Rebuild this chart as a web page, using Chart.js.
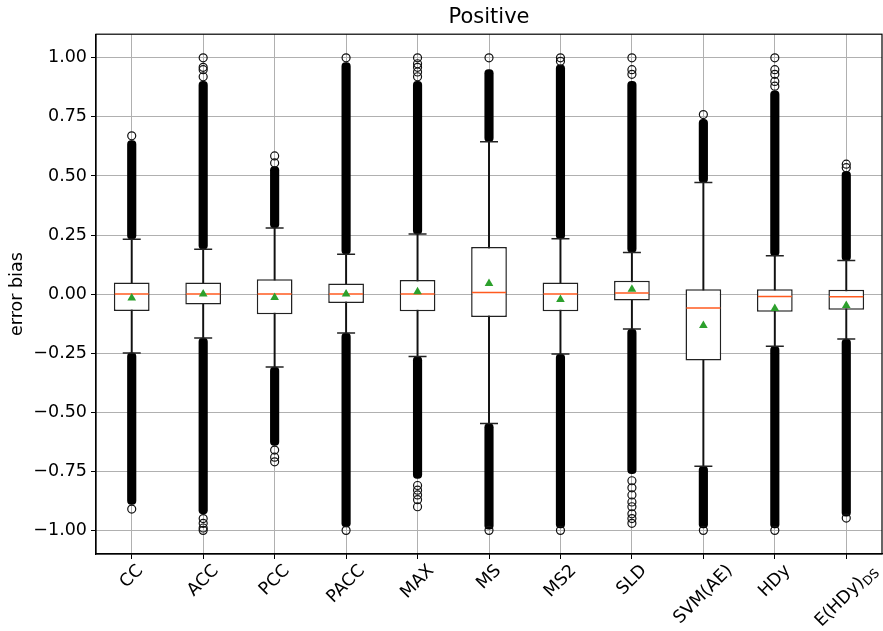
<!DOCTYPE html>
<html lang="en">
<head>
<meta charset="UTF-8" />
<title>Positive - error bias</title>
<script src="https://cdn.jsdelivr.net/npm/chart.js"></script>
<style>
  body { margin: 0; background: #fff; }
</style>
</head>
<body>
<canvas id="myChart" width="883" height="631"></canvas>
<script>
// categories + box stats
const methods = ['CC', 'ACC', 'PCC', 'PACC', 'MAX', 'MS', 'MS2', 'SLD', 'SVM(AE)', 'HDy', 'E(HDy)DS'];
const labelMain = ['CC', 'ACC', 'PCC', 'PACC', 'MAX', 'MS', 'MS2', 'SLD', 'SVM(AE)', 'HDy', 'E(HDy)'];
const labelSub = ['', '', '', '', '', '', '', '', '', '', 'DS'];

const q1 = [-0.071, -0.044, -0.085, -0.038, -0.073, -0.097, -0.073, -0.027, -0.281, -0.075, -0.066];
const q3 = [0.049, 0.049, 0.063, 0.045, 0.060, 0.199, 0.049, 0.056, 0.021, 0.021, 0.018];
const medians = [0, 0, 0, 0, 0, 0.007, 0, 0.005, -0.059, -0.010, -0.011];
const means = [-0.016, 0.0, -0.014, 0.0, 0.010, 0.045, -0.023, 0.021, -0.133, -0.061, -0.048];
const whiskerLo = [-0.249, -0.186, -0.309, -0.165, -0.264, -0.548, -0.254, -0.148, -0.729, -0.221, -0.190];
const whiskerHi = [0.232, 0.190, 0.280, 0.169, 0.254, 0.645, 0.234, 0.176, 0.472, 0.162, 0.142];

// outliers: dense runs (drawn as a band) and the loose circles past them
const denseHiEnd = [0.65, 0.90, 0.54, 0.98, 0.90, 0.95, 0.97, 0.90, 0.74, 0.86, 0.52];
const denseLoEnd = [-0.89, -0.93, -0.64, -0.985, -0.78, -0.995, -0.99, -0.76, -0.99, -0.99, -0.94];
const sparseHi = [[0.67], [0.92, 0.95, 0.96, 1.0], [0.555, 0.585], [1.0], [0.92, 0.94, 0.96, 0.975, 1.0],
  [1.0], [0.985, 1.0], [0.93, 0.95, 1.0], [0.76], [0.88, 0.90, 0.93, 0.95, 1.0], [0.535, 0.55]];
const sparseLo = [[-0.91], [-0.95, -0.97, -0.99, -1.0], [-0.66, -0.69, -0.71], [-1.0], [-0.81, -0.83, -0.85, -0.87, -0.90],
  [-1.0], [-1.0], [-0.79, -0.82, -0.85, -0.88, -0.90, -0.93, -0.95, -0.97], [-1.0], [-1.0], [-0.948]];

const yTicks = [-1.0, -0.75, -0.5, -0.25, 0, 0.25, 0.5, 0.75, 1.0];

Chart.defaults.font.family = "'DejaVu Sans', sans-serif";
Chart.defaults.color = '#000';

const fliers = [];
methods.forEach((m, i) => {
  sparseHi[i].forEach(v => fliers.push({ x: m, y: v }));
  sparseLo[i].forEach(v => fliers.push({ x: m, y: v }));
});

// top/right spines + rotated x labels (matplotlib style, centred, with subscript)
const framePlugin = {
  id: 'frame',
  afterDraw(chart) {
    const { ctx, chartArea: a, scales } = chart;
    ctx.save();
    ctx.strokeStyle = '#000';
    ctx.lineWidth = 1.2;
    ctx.strokeRect(a.left, a.top, a.right - a.left, a.bottom - a.top);

    ctx.fillStyle = '#000';
    ctx.textBaseline = 'middle';
    ctx.textAlign = 'left';
    methods.forEach((m, i) => {
      ctx.font = "17.5px 'DejaVu Sans'";
      const w1 = ctx.measureText(labelMain[i]).width;
      let w2 = 0;
      if (labelSub[i]) {
        ctx.font = "12.5px 'DejaVu Sans'";
        w2 = ctx.measureText(labelSub[i]).width;
      }
      const total = w1 + w2;
      const W = (total + 20) * Math.SQRT1_2;
      const cx = scales.x.getPixelForValue(i);
      const cy = a.bottom + 7 + W / 2;
      ctx.save();
      ctx.translate(cx, cy);
      ctx.rotate(-Math.PI / 4);
      ctx.font = "17.5px 'DejaVu Sans'";
      ctx.fillText(labelMain[i], -total / 2, 0);
      if (labelSub[i]) {
        ctx.font = "12.5px 'DejaVu Sans'";
        ctx.fillText(labelSub[i], -total / 2 + w1, 5);
      }
      ctx.restore();
    });
    ctx.restore();
  }
};

const ctx = document.getElementById('myChart');
new Chart(ctx, {
  type: 'bar',
  data: {
    labels: methods,
    datasets: [
      {
        label: 'whiskers',
        data: methods.map((m, i) => [whiskerLo[i], whiskerHi[i]]),
        backgroundColor: '#111',
        barThickness: 1.3,
        grouped: false,
        order: 10
      },
      {
        label: 'outliers hi',
        data: methods.map((m, i) => [whiskerHi[i], denseHiEnd[i]]),
        backgroundColor: '#000',
        barThickness: 8.5,
        borderRadius: 4,
        borderSkipped: false,
        grouped: false,
        order: 9
      },
      {
        label: 'outliers lo',
        data: methods.map((m, i) => [denseLoEnd[i], whiskerLo[i]]),
        backgroundColor: '#000',
        barThickness: 8.5,
        borderRadius: 4,
        borderSkipped: false,
        grouped: false,
        order: 9
      },
      {
        type: 'line',
        label: 'fliers',
        data: fliers,
        showLine: false,
        pointStyle: 'circle',
        pointRadius: 4,
        pointBorderWidth: 1.2,
        pointBorderColor: '#111',
        pointBackgroundColor: 'rgba(0,0,0,0)',
        order: 8
      },
      {
        label: 'box',
        data: methods.map((m, i) => [q1[i], q3[i]]),
        backgroundColor: '#fff',
        borderColor: '#222',
        borderWidth: 1.5,
        borderSkipped: false,
        barPercentage: 1,
        categoryPercentage: 0.5,
        grouped: false,
        order: 5
      },
      {
        type: 'line',
        label: 'cap hi',
        data: whiskerHi,
        showLine: false,
        pointStyle: 'line',
        pointRadius: 9,
        pointBorderWidth: 1.5,
        pointBorderColor: '#222',
        order: 4
      },
      {
        type: 'line',
        label: 'cap lo',
        data: whiskerLo,
        showLine: false,
        pointStyle: 'line',
        pointRadius: 9,
        pointBorderWidth: 1.5,
        pointBorderColor: '#222',
        order: 4
      },
      {
        type: 'line',
        label: 'median',
        data: medians,
        showLine: false,
        pointStyle: 'line',
        pointRadius: 17,
        pointBorderWidth: 1.5,
        pointBorderColor: '#ff5a1f',
        order: 3
      },
      {
        type: 'line',
        label: 'mean',
        data: means,
        showLine: false,
        pointStyle: 'triangle',
        pointRadius: 5,
        pointBorderWidth: 0,
        pointBackgroundColor: '#2ca02c',
        pointBorderColor: '#2ca02c',
        order: 1
      }
    ]
  },
  options: {
    responsive: false,
    animation: false,
    layout: { autoPadding: false, padding: { left: 0, right: 1, top: 0, bottom: 0 } },
    plugins: {
      legend: { display: false },
      tooltip: { enabled: false },
      title: {
        display: true,
        text: 'Positive',
        fullSize: false,
        color: '#000',
        font: { size: 21, weight: 'normal' },
        padding: { top: 5, bottom: 4 }
      }
    },
    scales: {
      x: {
        offset: true,
        grid: { offset: false, color: '#b0b0b0', lineWidth: 1, tickColor: '#000', tickLength: 5 },
        border: { color: '#000', width: 1.2 },
        ticks: { display: false },
        afterFit(scale) { scale.height = 77; }
      },
      y: {
        min: -1.1,
        max: 1.1,
        afterBuildTicks(scale) { scale.ticks = yTicks.map(v => ({ value: v })); },
        afterFit(scale) { scale.width = 96; },
        grid: { color: '#b0b0b0', lineWidth: 1, tickColor: '#000', tickLength: 5 },
        border: { color: '#000', width: 1.2 },
        ticks: {
          padding: 4,
          font: { size: 17.5 },
          color: '#000',
          callback: v => v.toFixed(2).replace('-', '\u2212')
        },
        title: {
          display: true,
          text: 'error bias',
          color: '#000',
          font: { size: 17.5 },
          padding: { top: 7, bottom: 0 }
        }
      }
    }
  },
  plugins: [framePlugin]
});
</script>
</body>
</html>
